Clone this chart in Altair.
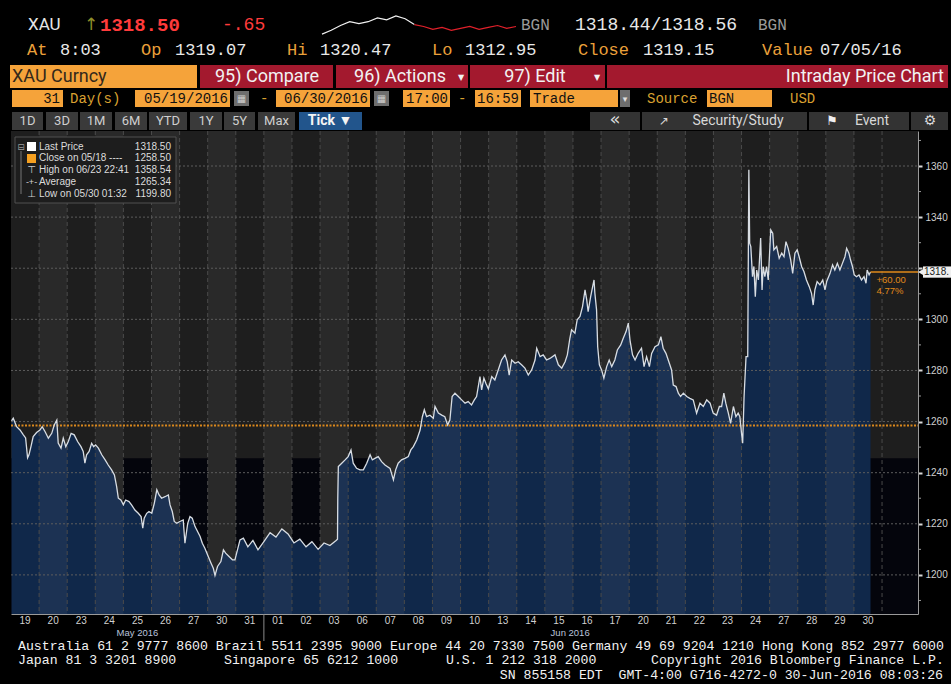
import altair as alt
import pandas as pd

# ---------------- data ----------------
DAY_LABELS = ["19", "20", "23", "24", "25", "26", "27", "30", "31", "01", "02", "03", "06", "07", "08",
              "09", "10", "13", "14", "15", "16", "17", "20", "21", "22", "23", "24", "27", "28", "29", "30"]
MONTH_LABELS = ["May 2016", "Jun 2016"]
MONTH_POS = [4.5, 19.9]          # position in trading days
MONTH_BREAK = 9                  # first trading day of June

# time in trading days since 05/19 17:00, price in USD
T_A = [0.02, 0.08, 0.20, 0.32, 0.44, 0.52, 0.59, 0.64, 0.71, 0.79, 0.91, 1.03, 1.11, 1.21, 1.33, 1.45, 1.54, 1.63,
       1.68, 1.78, 1.86, 1.95, 2.04, 2.14, 2.25, 2.37, 2.49, 2.57, 2.63, 2.69, 2.78, 2.87, 2.94, 3.01, 3.11, 3.23,
       3.35, 3.46, 3.58, 3.68, 3.76, 3.82, 3.91, 4.00, 4.08, 4.20, 4.29, 4.41, 4.53, 4.63, 4.69, 4.74, 4.83, 4.91]
P_A = [1260.3, 1261.3, 1258.0, 1256.7, 1254.8, 1253.6, 1245.8, 1247.0, 1250.2, 1254.1, 1255.7, 1256.7, 1258.0,
       1256.1, 1253.5, 1255.4, 1258.7, 1260.6, 1251.6, 1249.6, 1253.5, 1250.2, 1252.2, 1255.4, 1254.8, 1252.2,
       1250.2, 1248.3, 1243.7, 1247.0, 1248.3, 1251.5, 1250.2, 1250.9, 1249.6, 1247.0, 1245.0, 1243.0, 1241.1,
       1239.1, 1234.5, 1230.0, 1229.3, 1227.4, 1229.3, 1228.7, 1227.4, 1225.4, 1224.1, 1222.8, 1218.3, 1222.2,
       1224.1, 1224.8]
T_B = [5.01, 5.10, 5.19, 5.27, 5.36, 5.48, 5.60, 5.66, 5.74, 5.81, 5.90, 6.01, 6.13, 6.19, 6.29, 6.37, 6.45, 6.55,
       6.64, 6.73, 6.81, 6.90, 7.02, 7.12, 7.20, 7.26, 7.35, 7.47, 7.56, 7.64, 7.76, 7.88, 7.97, 8.03, 8.15, 8.27,
       8.43, 8.61, 8.79, 9.00, 9.22, 9.43, 9.64, 9.86, 10.07, 10.28, 10.50, 10.71, 10.93, 11.14, 11.35, 11.57, 11.62]
P_B = [1224.1, 1228.0, 1233.3, 1231.3, 1230.0, 1230.6, 1231.3, 1227.4, 1224.8, 1220.9, 1220.2, 1220.9, 1221.5,
       1212.4, 1220.2, 1222.8, 1222.2, 1218.9, 1217.0, 1215.0, 1212.4, 1210.4, 1207.2, 1204.6, 1202.6, 1199.8,
       1203.3, 1205.2, 1209.8, 1208.5, 1207.2, 1205.9, 1205.9, 1208.5, 1213.7, 1214.4, 1211.0, 1213.5, 1209.8,
       1213.0, 1216.5, 1214.8, 1218.0, 1216.0, 1212.5, 1214.0, 1211.0, 1213.0, 1210.0, 1212.5, 1211.5, 1213.5,
       1214.0]
T_C = [11.63, 11.65, 11.77, 11.89, 12.00, 12.10, 12.18, 12.30, 12.42, 12.54, 12.66, 12.78, 12.86, 12.95, 13.07,
       13.19, 13.31, 13.49, 13.61, 13.69, 13.78, 13.90, 14.02, 14.14, 14.23, 14.32, 14.44, 14.56, 14.64, 14.71,
       14.79, 14.91, 15.03, 15.09, 15.21, 15.33, 15.44, 15.54, 15.62, 15.70, 15.80, 15.92, 16.04, 16.16, 16.27,
       16.39, 16.49, 16.57, 16.69, 16.75, 16.83, 16.90, 16.99, 17.11, 17.22, 17.34, 17.46, 17.58, 17.66, 17.73,
       17.82, 17.94]
P_C = [1230.0, 1242.4, 1243.7, 1245.0, 1246.3, 1248.9, 1243.7, 1241.7, 1241.1, 1241.1, 1243.7, 1247.0, 1245.0,
       1245.6, 1246.3, 1244.3, 1243.0, 1241.7, 1237.2, 1241.1, 1243.7, 1245.0, 1245.6, 1246.3, 1248.9, 1250.2,
       1252.8, 1256.7, 1261.9, 1264.6, 1261.9, 1262.5, 1261.3, 1265.9, 1263.3, 1262.5, 1261.9, 1258.7, 1260.6,
       1269.8, 1271.1, 1269.8, 1268.5, 1267.2, 1267.8, 1266.5, 1268.5, 1269.8, 1277.6, 1272.4, 1277.0, 1275.0,
       1272.8, 1277.6, 1276.3, 1280.2, 1284.1, 1286.1, 1283.4, 1278.2, 1284.1, 1282.8]
T_D = [18.05, 18.17, 18.29, 18.41, 18.53, 18.65, 18.71, 18.83, 18.94, 19.06, 19.18, 19.36, 19.48, 19.60, 19.72,
       19.80, 19.89, 19.95, 20.07, 20.15, 20.25, 20.34, 20.43, 20.49, 20.54, 20.63, 20.70, 20.75, 20.78, 20.84,
       20.88, 20.94, 21.02, 21.10, 21.20, 21.29, 21.38, 21.49, 21.58, 21.70, 21.79, 21.89, 21.97, 22.03, 22.12,
       22.21, 22.32, 22.44, 22.53, 22.62, 22.72, 22.80, 22.92, 23.04, 23.13, 23.21, 23.31, 23.43, 23.51, 23.57,
       23.67, 23.75, 23.83, 23.93, 24.05, 24.16, 24.28, 24.40, 24.52, 24.64, 24.76, 24.88, 24.99, 25.11, 25.21,
       25.29, 25.37, 25.44, 25.53, 25.61, 25.71, 25.80, 25.88, 25.94, 26.00, 26.04]
P_D = [1283.4, 1282.2, 1280.9, 1278.2, 1280.2, 1284.1, 1288.7, 1285.4, 1286.1, 1284.1, 1284.7, 1286.1, 1282.2,
       1280.9, 1283.4, 1286.1, 1292.6, 1295.9, 1294.6, 1299.8, 1301.1, 1305.0, 1311.5, 1307.6, 1303.0, 1308.9,
       1312.8, 1315.4, 1310.2, 1303.7, 1289.3, 1282.2, 1280.2, 1277.0, 1281.5, 1284.1, 1281.5, 1284.1, 1288.0,
       1290.0, 1292.6, 1295.2, 1298.5, 1291.9, 1286.1, 1284.1, 1286.7, 1288.7, 1281.5, 1285.4, 1281.5, 1286.7,
       1289.3, 1290.0, 1293.2, 1288.7, 1286.7, 1282.8, 1280.2, 1274.3, 1273.7, 1271.1, 1269.8, 1271.1, 1269.8,
       1269.1, 1268.5, 1263.3, 1267.2, 1265.9, 1268.5, 1267.2, 1263.3, 1262.5, 1265.9, 1265.9, 1271.1, 1267.2,
       1263.3, 1259.3, 1265.9, 1261.9, 1263.3, 1261.9, 1255.4, 1251.5]
T_E = [26.09, 26.16, 26.22, 26.26, 26.29, 26.33, 26.39, 26.44, 26.49, 26.54, 26.60, 26.68, 26.73, 26.77, 26.83,
       26.89, 26.95, 27.04, 27.11, 27.15, 27.25, 27.34, 27.43, 27.51, 27.58, 27.66, 27.75, 27.82, 27.90, 27.98,
       28.05, 28.14, 28.22, 28.31, 28.41, 28.49, 28.55, 28.61, 28.69, 28.79, 28.89, 28.97, 29.03, 29.15, 29.24,
       29.32, 29.41, 29.50, 29.59, 29.68, 29.74, 29.82, 29.88, 29.95, 30.01, 30.09, 30.18, 30.27, 30.36, 30.43,
       30.47, 30.54, 30.59]
P_E = [1269.8, 1285.4, 1285.4, 1358.5, 1329.8, 1328.5, 1316.7, 1320.7, 1308.9, 1319.3, 1315.4, 1331.8, 1311.5,
       1320.6, 1316.7, 1320.6, 1315.4, 1335.0, 1333.7, 1327.2, 1328.5, 1323.9, 1325.9, 1324.5, 1330.4, 1327.8,
       1323.2, 1318.0, 1325.9, 1327.2, 1324.5, 1320.6, 1318.7, 1315.4, 1312.8, 1310.2, 1305.6, 1311.5, 1314.8,
       1313.5, 1315.4, 1311.5, 1314.8, 1318.0, 1321.3, 1319.3, 1321.9, 1319.3, 1321.9, 1324.5, 1327.8, 1325.9,
       1323.2, 1320.6, 1317.4, 1316.7, 1317.4, 1315.4, 1316.7, 1314.1, 1319.3, 1317.4, 1318.5]

CLOSE_0518 = 1258.50
LAST_PRICE = 1318.50
Y_TICKS = [1200, 1220, 1240, 1260, 1280, 1300, 1320, 1340, 1360]
Y_MINOR = [1190, 1210, 1230, 1250, 1270, 1290, 1310, 1330, 1350, 1370]
SHADE_LEVEL = 1245.6

LEGEND_LABELS = ["Last Price", "Close on 05/18 ----", "High on 06/23 22:41", "Average", "Low on 05/30 01:32"]
LEGEND_VALUES = ["1318.50", "1258.50", "1358.54", "1265.34", "1199.80"]

SPARK_WHITE = [4, 8, 13, 17, 15, 17, 21, 19, 23, 20, 14]
SPARK_RED = [14, 12, 9, 11, 8, 10, 12, 9, 11, 13, 10, 12]

# ---------------- layout ----------------
W, H = 907, 483
PL, PT, PR, PB = 11, 131, 33, 70
X_MAX = 32.28
Y_MIN, Y_MAX = 1184.7, 1373.7
MONO = "Liberation Mono"
SANS = "Liberation Sans"
HEAD = "Roboto"
ORANGE = "#f5a33a"
RED = "#a3192e"

XS = alt.Scale(domain=[0, X_MAX], nice=False, zero=False)
YS = alt.Scale(domain=[Y_MIN, Y_MAX], nice=False, zero=False)
XAX = alt.Axis(values=[0, X_MAX], labels=False, ticks=False, grid=False, domainColor="#9a9a9a", title=None)
YAX = alt.Axis(orient="right", values=Y_TICKS, grid=False, domainColor="#9a9a9a", tickColor="#d8d8d8",
               tickSize=4, tickWidth=2, labelColor="#cfcfcf", labelFont=SANS, labelFontSize=10,
               labelPadding=3, title=None, format="d",
               labelExpr="abs(datum.value - %s) < 8 ? '' : datum.label" % LAST_PRICE)


def X(f):
    return alt.X(f, type="quantitative", scale=XS, axis=XAX)


def Y(f):
    return alt.Y(f, type="quantitative", scale=YS, axis=YAX)


ONE = alt.Data(values=[{"k": 0}])

price = pd.concat([pd.DataFrame({"t": T_A, "p": P_A}), pd.DataFrame({"t": T_B, "p": P_B}),
                   pd.DataFrame({"t": T_C, "p": P_C}), pd.DataFrame({"t": T_D, "p": P_D}),
                   pd.DataFrame({"t": T_E, "p": P_E})], ignore_index=True)
T_LAST = float(price["t"].iloc[-1])
ndays = len(DAY_LABELS)
days = pd.DataFrame({"c": [i + 0.5 for i in range(ndays)], "lab": DAY_LABELS})
even = pd.DataFrame({"a": [i for i in range(ndays) if i % 2 == 0] + [ndays],
                     "b": [i + 1 for i in range(ndays) if i % 2 == 0] + [X_MAX]})
odd = pd.DataFrame({"a": [i for i in range(ndays) if i % 2 == 1],
                    "b": [i + 1 for i in range(ndays) if i % 2 == 1]})
bounds = pd.DataFrame({"b": list(range(1, ndays + 1))})
grid = pd.DataFrame({"v": Y_TICKS})
minor = pd.DataFrame({"v": Y_MINOR})
months = pd.DataFrame({"m": MONTH_LABELS, "x": MONTH_POS})

chg = LAST_PRICE - CLOSE_0518
pct = chg / CLOSE_0518 * 100

main_layers = [
    alt.Chart(even).mark_rect(fill="#04050c").encode(x=X("a"), x2="b", y=alt.datum(SHADE_LEVEL), y2=alt.value(H)),
    alt.Chart(price).mark_area(fill="#10284a").encode(x=X("t"), y=Y("p"), y2=alt.datum(Y_MIN)),
    alt.Chart(odd).mark_rect(fill="#ffffff", opacity=0.05).encode(x=X("a"), x2="b", y=alt.value(0), y2=alt.value(H)),
    alt.Chart(bounds).mark_rule(color="#4a4a4a", strokeDash=[4, 3], strokeWidth=1).encode(
        x=X("b"), y=alt.value(0), y2=alt.value(H)),
    alt.Chart(grid).mark_rule(color="#5c5c5c", strokeDash=[2, 2], strokeWidth=1).encode(
        y=Y("v"), x=alt.value(0), x2=alt.value(W)),
    alt.Chart(ONE).mark_rule(color="#d9871c", strokeDash=[2, 1.5], strokeWidth=2).encode(
        y=alt.datum(CLOSE_0518), x=alt.value(0), x2=alt.value(W)),
    alt.Chart(price).mark_line(color="#d8dde3", strokeWidth=1.3).encode(x=X("t"), y=Y("p")),
    alt.Chart(ONE).mark_rule(color="#e08a1a", strokeWidth=1.5).encode(
        x=alt.datum(T_LAST), x2=alt.value(W), y=alt.datum(LAST_PRICE)),
    alt.Chart(ONE).mark_text(text="%+.2f" % chg, align="left", baseline="middle", dx=6, dy=8,
                             color="#e08a1a", font=SANS, fontSize=9.5).encode(
        x=alt.datum(T_LAST), y=alt.datum(LAST_PRICE)),
    alt.Chart(ONE).mark_text(text="%.2f%%" % pct, align="left", baseline="middle", dx=6, dy=19,
                             color="#e08a1a", font=SANS, fontSize=9.5).encode(
        x=alt.datum(T_LAST), y=alt.datum(LAST_PRICE)),
    alt.Chart(minor).mark_rule(color="#9a9a9a").encode(y=Y("v"), x=alt.value(W), x2=alt.value(W + 3)),
    alt.Chart(ONE).mark_rect(fill="#f0f0f0").encode(
        x=alt.value(W + 5), x2=alt.value(W + 33), y=alt.datum(LAST_PRICE + 2.2), y2=alt.datum(LAST_PRICE - 2.2)),
    alt.Chart(ONE).mark_point(shape="triangle-left", filled=True, color="#f0f0f0", opacity=1, size=45).encode(
        x=alt.value(W + 3), y=alt.datum(LAST_PRICE)),
    alt.Chart(ONE).mark_text(text=("%.2f" % LAST_PRICE)[:5], align="left", baseline="middle", color="#202020",
                             font=SANS, fontSize=10).encode(x=alt.value(W + 6), y=alt.datum(LAST_PRICE)),
    alt.Chart(days).mark_text(baseline="middle", color="#d0d0d0", font=SANS, fontSize=10).encode(
        x=X("c"), y=alt.value(H + 7), text="lab:N"),
    alt.Chart(ONE).mark_rule(color="#8a8a8a").encode(x=alt.datum(MONTH_BREAK), y=alt.value(H),
                                                       y2=alt.value(H + 27)),
    alt.Chart(months).mark_text(baseline="middle", color="#b9c2dc", font=SANS, fontSize=9.5).encode(
        x=X("x"), y=alt.value(H + 19), text="m:N"),
]
main = alt.layer(*main_layers)

spark_df = pd.DataFrame({"i": list(range(len(SPARK_WHITE))) +
                         list(range(len(SPARK_WHITE) - 1, len(SPARK_WHITE) - 1 + len(SPARK_RED))),
                         "v": SPARK_WHITE + SPARK_RED,
                         "s": ["w"] * len(SPARK_WHITE) + ["r"] * len(SPARK_RED)})
n_sp = len(SPARK_WHITE) + len(SPARK_RED) - 2
SX = alt.Scale(domain=[0, n_sp], range=[322 - PL, 516 - PL], nice=False, zero=False)
SY = alt.Scale(domain=[0, 25], range=[38 - PT, 14 - PT], nice=False, zero=False)
spark = alt.layer(
    alt.Chart(spark_df).transform_filter("datum.s == 'w'").mark_line(color="#f0f0f0", strokeWidth=1.2).encode(
        x=alt.X("i:Q", scale=SX, axis=None), y=alt.Y("v:Q", scale=SY, axis=None)),
    alt.Chart(spark_df).transform_filter("datum.s == 'r'").mark_line(color="#e0202a", strokeWidth=1.2).encode(
        x=alt.X("i:Q", scale=SX, axis=None), y=alt.Y("v:Q", scale=SY, axis=None)),
)


# ---------------- decorations (absolute pixel layout) ----------------
def T(s, x, y, size=16, color="#e8e8e8", font=MONO, align="left", weight="normal"):
    return alt.Chart(ONE).mark_text(text=s, align=align, baseline="middle", font=font, fontSize=size,
                                    color=color, fontWeight=weight).encode(
        x=alt.value(x - PL), y=alt.value(y - PT))


def R(x1, x2, y1, y2, fill, stroke=None, opacity=1.0):
    kw = dict(fill=fill, opacity=opacity)
    if stroke:
        kw.update(stroke=stroke, strokeWidth=1)
    return alt.Chart(ONE).mark_rect(**kw).encode(
        x=alt.value(x1 - PL), x2=alt.value(x2 - PL), y=alt.value(y1 - PT), y2=alt.value(y2 - PT))


decor = []
# row 1
decor += [T("XAU", 28, 25, 17, "#e6e6e6", HEAD), T("\u2191", 84, 25, 17, "#8f8f2a", "DejaVu Sans"),
          T("1318.50", 100, 25, 19, "#ff3b3b", MONO, weight="bold"), T("-.65", 222, 25, 18, "#ff3b3b"),
          T("BGN", 521, 25, 16, "#9a9a9a"), T("1318.44/1318.56", 575, 25, 18, "#e8e8e8"),
          T("BGN", 758, 25, 16, "#9a9a9a")]
# row 2
for s, x in [("At", 27), ("Op", 141), ("Hi", 287), ("Lo", 432), ("Close", 578), ("Value", 762)]:
    decor.append(T(s, x, 50, 17, "#eba03a"))
for s, x in [("8:03", 60), ("1319.07", 175), ("1320.47", 320), ("1312.95", 465), ("1319.15", 643),
             ("07/05/16", 820)]:
    decor.append(T(s, x, 50, 17, "#e8e8e8"))
# row 3
decor += [R(10, 197, 65, 88, ORANGE), T("XAU Curncy", 12, 77, 18, "#33281a", HEAD),
          R(200, 333, 65, 88, RED), T("95) Compare", 267, 77, 18, "#f2f2f2", HEAD, "center"),
          R(336, 468, 65, 88, RED), T("96) Actions", 400, 77, 18, "#f2f2f2", HEAD, "center"),
          T("\u25bc", 461, 78, 8, "#f2f2f2", "DejaVu Sans", "center"),
          R(470, 605, 65, 88, RED), T("97) Edit", 535, 77, 18, "#f2f2f2", HEAD, "center"),
          T("\u25bc", 597, 78, 8, "#f2f2f2", "DejaVu Sans", "center"),
          R(607, 948, 65, 88, RED), T("Intraday Price Chart", 944, 77, 18, "#f2f2f2", HEAD, "right")]
# row 4
for x1, x2 in [(12, 63), (135, 230), (276, 370), (403, 450), (475, 521), (530, 618), (707, 772)]:
    decor.append(R(x1, x2, 90, 107, ORANGE))
for x1 in [234, 374]:
    decor += [R(x1, x1 + 15, 91, 106, "#6e6e6e"), T("\u25a6", x1 + 7.5, 98.5, 10, "#cfcfcf", "DejaVu Sans", "center")]
decor += [R(620, 630, 90, 107, "#6e6e6e"), T("\u25be", 625, 99, 9, "#e0e0e0", "DejaVu Sans", "center")]
for s, x in [("31", 60), ("05/19/2016", 228), ("06/30/2016", 368), ("17:00", 448), ("16:59", 519)]:
    decor.append(T(s, x, 98.5, 14, "#111111", MONO, "right"))
decor += [T("Trade", 533, 98.5, 14, "#111111"), T("BGN", 709, 98.5, 14, "#111111")]
for s, x in [("Day(s)", 70), ("-", 260), ("-", 458), ("Source", 647), ("USD", 790)]:
    decor.append(T(s, x, 98.5, 14, "#d9a030"))
# row 5
for x1, x2, s in [(12, 43, "1D"), (46, 78, "3D"), (80, 112, "1M"), (115, 147, "6M"), (149, 187, "YTD"),
                  (190, 222, "1Y"), (224, 255, "5Y"), (258, 295, "Max")]:
    decor += [R(x1, x2, 112, 130, "#3a3a3a"), T(s, (x1 + x2) / 2, 121, 13, "#cfcfcf", HEAD, "center")]
decor += [R(299, 362, 112, 130, "#22558c"), T("Tick \u25bc", 330, 121, 14, "#f4f4f4", HEAD, "center", "bold")]
decor += [R(590, 640, 112, 130, "#333333"), T("\u00ab", 615, 120, 18, "#d8d8d8", "DejaVu Sans", "center"),
          R(642, 807, 112, 130, "#333333"), T("\u2197", 664, 121, 12, "#d8d8d8", "DejaVu Sans", "center"),
          T("Security/Study", 738, 121, 14, "#d8d8d8", HEAD, "center"),
          R(809, 909, 112, 130, "#333333"), T("\u2691", 832, 121, 13, "#f0f0f0", "DejaVu Sans", "center"),
          T("Event", 872, 121, 14, "#d8d8d8", HEAD, "center"),
          R(911, 948, 112, 130, "#333333"), T("\u2699", 930, 121, 14, "#d8d8d8", "DejaVu Sans", "center")]
# legend box
decor += [R(15, 176, 137, 203, "#1d1d1d", "#505050"),
          alt.Chart(ONE).mark_rule(color="#777777").encode(x=alt.value(21 - PL), y=alt.value(151 - PT),
                                                           y2=alt.value(194 - PT)),
          T("\u229f", 21, 146.5, 9, "#9a9a9a", "DejaVu Sans", "center"),
          R(27, 36, 142, 151, "#ffffff"), R(27, 36, 154, 163, "#f5a020"),
          T("\u22a4", 31.5, 170, 10, "#cfcfcf", "DejaVu Sans", "center"),
          T("-+-", 31.5, 181.7, 9, "#cfcfcf", SANS, "center"),
          T("\u22a5", 31.5, 193.5, 10, "#cfcfcf", "DejaVu Sans", "center")]
for i, (lab, val) in enumerate(zip(LEGEND_LABELS, LEGEND_VALUES)):
    yy = 146.5 + i * 11.75
    decor += [T(lab, 39, yy, 10, "#dcdcdc", SANS), T(val, 171, yy, 10, "#dcdcdc", SANS, "right")]
# footer
FS = 13.2
decor += [T("Australia 61 2 9777 8600 Brazil 5511 2395 9000 Europe 44 20 7330 7500 Germany 49 69 9204 1210 "
            "Hong Kong 852 2977 6000", 18, 646, FS, "#f2f2f2"),
          T("Japan 81 3 3201 8900", 18, 660, FS, "#f2f2f2"),
          T("Singapore 65 6212 1000", 224, 660, FS, "#f2f2f2"),
          T("U.S. 1 212 318 2000", 446, 660, FS, "#f2f2f2"),
          T("Copyright 2016 Bloomberg Finance L.P.", 651, 660, FS, "#f2f2f2"),
          T("SN 855158 EDT \u00a0GMT-4:00 G716-4272-0 30-Jun-2016 08:03:26", 943, 675, FS, "#f2f2f2",
            MONO, "right")]

chart = alt.layer(main, spark, *decor).resolve_scale(x="independent", y="independent").properties(
    width=W, height=H, padding={"left": PL, "top": PT, "right": PR, "bottom": PB},
    autosize=alt.AutoSizeParams(type="none"), background="#000000"
).configure_view(stroke=None, fill="#1e1e1e")

chart.save("out.html", embed_options={"renderer": "svg", "actions": False})
